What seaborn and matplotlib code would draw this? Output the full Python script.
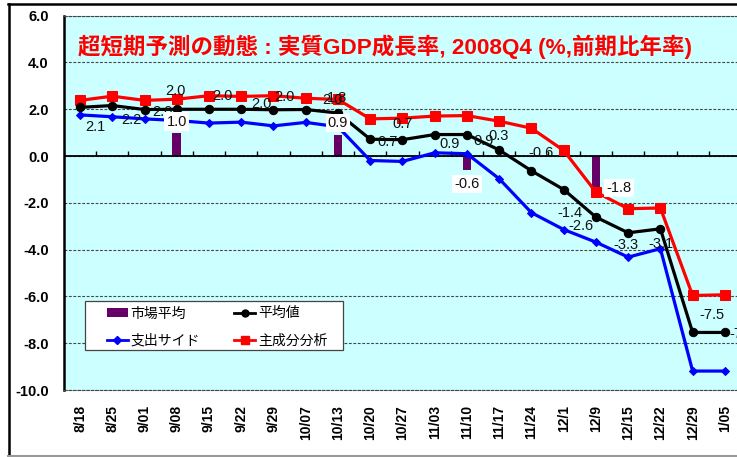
import numpy as np
import pandas as pd
import matplotlib
matplotlib.use("Agg")
import matplotlib.pyplot as plt
from matplotlib.lines import Line2D
from matplotlib.patches import Patch, Rectangle
import seaborn as sns

# ---------------- data ----------------
dates = ["8/18", "8/25", "9/01", "9/08", "9/15", "9/22", "9/29", "10/07", "10/13",
         "10/20", "10/27", "11/03", "11/10", "11/17", "11/24", "12/1", "12/9",
         "12/15", "12/22", "12/29", "1/05"]
market_avg = [np.nan, np.nan, np.nan, 1.0, np.nan, np.nan, np.nan, np.nan, 0.9,
              np.nan, np.nan, np.nan, -0.6, np.nan, np.nan, np.nan, -1.8,
              np.nan, np.nan, np.nan, np.nan]
mean_val = [2.08, 2.16, 1.99, 2.0, 2.0, 2.0, 1.98, 1.99, 1.84,
            0.72, 0.70, 0.92, 0.92, 0.26, -0.63, -1.43, -2.61,
            -3.28, -3.11, -7.54, -7.54]
expenditure = [1.76, 1.68, 1.59, 1.52, 1.41, 1.45, 1.29, 1.44, 1.25,
               -0.19, -0.23, 0.14, 0.10, -0.97, -2.42, -3.14, -3.68,
               -4.32, -3.96, -9.19, -9.19]
pca = [2.38, 2.56, 2.38, 2.43, 2.58, 2.55, 2.58, 2.47, 2.42,
       1.59, 1.62, 1.71, 1.73, 1.49, 1.19, 0.24, -1.54,
       -2.25, -2.22, -5.96, -5.93]
yticks = [6.0, 4.0, 2.0, 0.0, -2.0, -4.0, -6.0, -8.0, -10.0]
title = "超短期予測の動態 : 実質GDP成長率, 2008Q4 (%,前期比年率)"
names = ["市場平均", "平均値", "支出サイド", "主成分分析"]

# label offsets in pixels (dx, dy) for the 平均値 labels
mean_offsets = [(15, -20), (19, -14), (18, -2), (-1, 18), (13, 13), (20, 5), (11, 13),
                (27, 10), (-1, 15), (17, -3), (0, 16), (15, -9), (17, -6), (-1, 14),
                (10, 18), (6, -23), (-15, -9), (-2, -12), (1, -15), (19, 17), (17, -2)]
bar_offsets = {3: (0, 11), 8: (0, 12), 12: (0, -14), 16: (23, 10)}

plt.rcParams["font.family"] = ["Liberation Sans", "Noto Sans CJK JP"]

W, H = 737, 457
fig = plt.figure(figsize=(W / 100, H / 100), dpi=100)
fig.patch.set_facecolor("white")

ax_l, ax_r, ax_t, ax_b = 63.9, 741.0, 15.7, 390.0
ax = fig.add_axes([ax_l / W, (H - ax_b) / H, (ax_r - ax_l) / W, (ax_b - ax_t) / H])
ax.set_facecolor("#CCFFFF")

n = len(dates)
idx = np.arange(n)
df = pd.DataFrame({"date": dates, "idx": idx, "market": market_avg, "mean": mean_val,
                   "exp": expenditure, "pca": pca})

# bars
sns.barplot(data=df, x="date", y="market", order=dates, color="#660066",
            width=0.27, errorbar=None, ax=ax, linewidth=0, saturation=1, zorder=2)

# lines
sns.lineplot(data=df, x="idx", y="pca", color="#FF0000", marker="s", markersize=6.5,
             markeredgecolor="#FF0000", linewidth=2.3, ax=ax, zorder=4, estimator=None)
sns.lineplot(data=df, x="idx", y="mean", color="black", marker="o", markersize=6,
             markeredgecolor="black", linewidth=2.3, ax=ax, zorder=5, estimator=None)
sns.lineplot(data=df, x="idx", y="exp", color="#0000FF", marker="D", markersize=4,
             markeredgecolor="#0000FF", linewidth=2.3, ax=ax, zorder=3, estimator=None)

ax.set_xlim(-0.5, n - 0.5)
ax.set_ylim(-10, 6)
ax.set_xlabel("")
ax.set_ylabel("")

# grid
ax.set_yticks(yticks)
ax.set_yticklabels([f"{v:.1f}" for v in yticks], fontsize=10.5, fontweight="bold")
ax.yaxis.grid(True, linestyle=(0, (2.5, 1.5)), color="#444444", linewidth=0.8, zorder=0)
ax.set_axisbelow(True)
ax.tick_params(axis="y", length=0, pad=11)

ax.set_xticks(idx)
ax.set_xticklabels(dates, rotation=90, fontsize=10, fontweight="bold", va="top", ha="center")
ax.tick_params(axis="x", length=0, pad=11)

for s in ["top", "bottom", "right"]:
    ax.spines[s].set_linestyle((0, (2.5, 1.5)))
    ax.spines[s].set_color("#444444")
    ax.spines[s].set_linewidth(0.8)
ax.spines["left"].set_color("black")
ax.spines["left"].set_linewidth(1.8)

# zero axis with boundary ticks
ax.axhline(0, color="black", linewidth=1.3, zorder=2.5)
ax.vlines(np.arange(n + 1) - 0.5, 0, 0.22, color="black", linewidth=1.0, zorder=2.5)

# mean labels
for i, v in enumerate(mean_val):
    dx, dy = mean_offsets[i]
    ax.annotate(f"{v:.1f}", (i, v), xytext=(dx, dy), textcoords="offset pixels",
                ha="center", va="center", fontsize=10.5, color="#111111", zorder=7,
                annotation_clip=False)

# bar labels
for i, v in enumerate(market_avg):
    if np.isnan(v):
        continue
    dx, dy = bar_offsets[i]
    ax.annotate(f"{v:.1f}", (i, v), xytext=(dx, dy), textcoords="offset pixels",
                ha="center", va="center", fontsize=10.5, color="#111111", zorder=8,
                bbox=dict(boxstyle="square,pad=0.15", facecolor="white", edgecolor="none"))

# title
ax.text(0.021, 0.916, title, transform=ax.transAxes, color="#FF0000", fontsize=16.2,
        fontweight="bold", ha="left", va="center", zorder=9)

# legend (frame drawn separately)
def px2ax(x, y):
    return ((x - ax_l) / (ax_r - ax_l), (ax_b - y) / (ax_b - ax_t))

x0, y0 = px2ax(85, 350)
x1, y1 = px2ax(343, 301)
ax.add_patch(Rectangle((x0, y0), x1 - x0, y1 - y0, transform=ax.transAxes,
                       facecolor="white", edgecolor="#444444", linewidth=0.9, zorder=9))

handles = [
    Patch(facecolor="#660066", edgecolor="none"),
    Line2D([], [], color="#0000FF", marker="D", markersize=4, linewidth=2),
    Line2D([], [], color="black", marker="o", markersize=5, linewidth=2),
    Line2D([], [], color="#FF0000", marker="s", markersize=6, linewidth=2),
]
labels = [names[0], names[2], names[1], names[3]]
lx0, ly0 = px2ax(104, 352)
lx1, ly1 = px2ax(330, 302)
leg = ax.legend(handles, labels, ncol=2, loc="center",
                bbox_to_anchor=(lx0, ly0, lx1 - lx0, ly1 - ly0), mode="expand",
                fontsize=10, frameon=False, handlelength=1.5,
                handletextpad=0.2, labelspacing=0.95, borderpad=0.2,
                columnspacing=2.0, borderaxespad=0)
leg.set_zorder(10)

# outer frame
fig.add_artist(Line2D([9 / W, 9 / W], [1 - 4 / H, 1 - 455 / H], transform=fig.transFigure,
                      color="black", linewidth=1.8))
fig.add_artist(Line2D([8 / W, 1.0], [1 - 4 / H, 1 - 4 / H], transform=fig.transFigure,
                      color="black", linewidth=1.8))
fig.add_artist(Line2D([8 / W, 1.0], [1 - 455.5 / H, 1 - 455.5 / H], transform=fig.transFigure,
                      color="#999999", linewidth=1.5))

fig.savefig("out.png", dpi=100)
